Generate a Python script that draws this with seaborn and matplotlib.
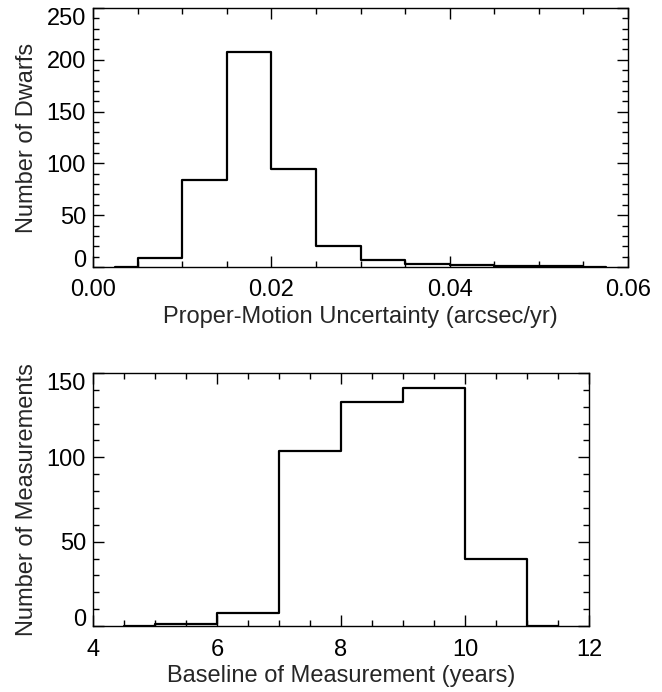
import matplotlib
matplotlib.use("Agg")
import matplotlib.pyplot as plt
import seaborn as sns
import numpy as np
from matplotlib.ticker import MultipleLocator

# Data (bin centers and counts, IDL psym=10 style)
pm_centers = [0.0025, 0.0075, 0.0125, 0.0175, 0.0225, 0.0275, 0.0325,
              0.0375, 0.0425, 0.0475, 0.0525, 0.0575]
pm_counts = [0, 9, 84, 208, 95, 20, 7, 3, 2, 1, 1, 0]

bl_centers = [4.5, 5.5, 6.5, 7.5, 8.5, 9.5, 10.5, 11.5]
bl_counts = [0, 1, 8, 104, 133, 141, 40, 0]

pm_xticks = [0, 0.02, 0.04, 0.06]
pm_xticklabels = ["0.00", "0.02", "0.04", "0.06"]
pm_yticks = [0, 50, 100, 150, 200, 250]
bl_xticks = [4, 6, 8, 10, 12]
bl_yticks = [0, 50, 100, 150]

sns.set_theme(style="white")
plt.rcParams['font.family'] = ['Liberation Sans', 'DejaVu Sans']
FS = 17

W, H = 662, 692
fig = plt.figure(figsize=(W / 100, H / 100), dpi=100)

def frac(l, t, r, b):
    return [l / W, 1 - b / H, (r - l) / W, (b - t) / H]

ax1 = fig.add_axes(frac(93, 8, 628, 267))
ax2 = fig.add_axes(frac(93, 373, 589, 626))

sns.lineplot(x=pm_centers, y=pm_counts, ax=ax1, drawstyle='steps-mid',
             color='black', linewidth=1.6, sort=False)
sns.lineplot(x=bl_centers, y=bl_counts, ax=ax2, drawstyle='steps-mid',
             color='black', linewidth=1.6, sort=False)

ax1.set_xlim(0, 0.06)
ax1.set_ylim(0, 250)
ax1.xaxis.set_minor_locator(MultipleLocator(0.005))
ax1.set_yticks(pm_yticks)
ax1.yaxis.set_minor_locator(MultipleLocator(10))
ax1.set_xticks(pm_xticks)
ax1.set_xticklabels(pm_xticklabels)
ax1.set_xlabel("Proper-Motion Uncertainty (arcsec/yr)", fontsize=FS, labelpad=3)
ax1.set_ylabel("Number of Dwarfs", fontsize=FS, labelpad=6)

ax2.set_xlim(4, 12)
ax2.set_ylim(0, 150)
ax2.set_xticks(bl_xticks)
ax2.xaxis.set_minor_locator(MultipleLocator(0.5))
ax2.set_yticks(bl_yticks)
ax2.yaxis.set_minor_locator(MultipleLocator(10))
ax2.set_xlabel("Baseline of Measurement (years)", fontsize=FS, labelpad=3)
ax2.set_ylabel("Number of Measurements", fontsize=FS, labelpad=6)

for ax in (ax1, ax2):
    for s in ax.spines.values():
        s.set_color('black')
        s.set_linewidth(1.0)
    ax.tick_params(which='both', direction='in', top=True, right=True,
                   bottom=True, left=True, colors='black', labelsize=FS)
    ax.tick_params(which='major', length=8, width=1.0)
    ax.tick_params(which='minor', length=4, width=1.0)
    ax.tick_params(axis='x', which='major', pad=9)
    ax.tick_params(axis='y', which='major', pad=5)
    ax.grid(False)
    labs = ax.get_yticklabels()
    labs[0].set_verticalalignment('baseline')
    labs[-1].set_verticalalignment('top')

fig.savefig("out.png", dpi=100, facecolor='white')
